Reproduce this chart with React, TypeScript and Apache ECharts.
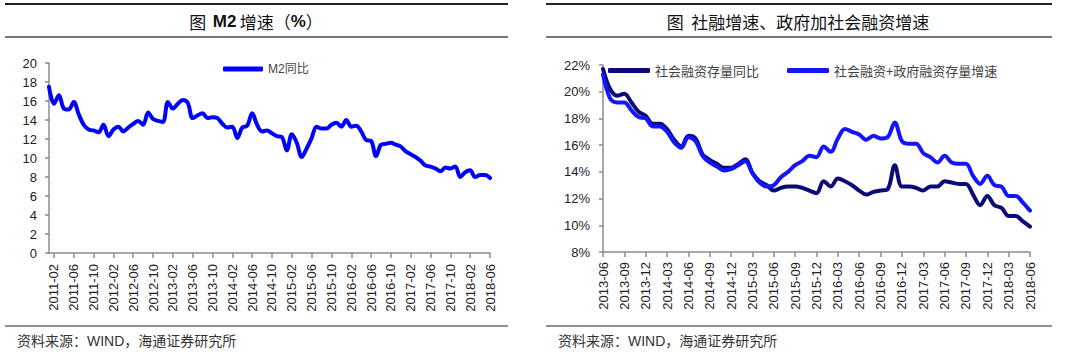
import React, { useEffect, useRef } from "react";
import * as echarts from "echarts";

function buildMonths(y0: number, m0: number, n: number): string[] {
  const out: string[] = [];
  let y = y0;
  let m = m0;
  for (let i = 0; i < n; i++) {
    out.push(`${y}-${m < 10 ? "0" + m : m}`);
    m++;
    if (m > 12) {
      m = 1;
      y++;
    }
  }
  return out;
}

// Left chart: M2 YoY growth (%), monthly 2011-01 .. 2018-06
const m2Months = buildMonths(2011, 1, 90);
const m2Values = [
  17.5, 15.7, 16.6, 15.2, 15.1, 15.9, 14.6, 13.5, 13.0, 12.9, 12.7, 13.5,
  12.3, 13.0, 13.3, 12.8, 13.2, 13.6, 13.9, 13.5, 14.8, 14.1, 13.9, 13.8,
  15.9, 15.2, 15.7, 16.1, 15.8, 14.2, 14.5, 14.7, 14.2, 14.3, 14.2, 13.6,
  13.2, 13.3, 12.1, 13.2, 13.4, 14.7, 13.5, 12.8, 12.9, 12.6, 12.3, 12.2,
  10.8, 12.5, 11.6, 10.1, 11.0, 12.1, 13.3, 13.1, 13.1, 13.5, 13.7, 13.3,
  14.0, 13.3, 13.4, 12.8, 11.9, 11.8, 10.2, 11.4, 11.5, 11.6, 11.4, 11.2,
  10.7, 10.4, 10.1, 9.7, 9.2, 9.1, 8.9, 8.6, 9.0, 8.9, 9.1, 8.0,
  8.5, 8.7, 8.0, 8.2, 8.2, 7.9,
];
const m2Name = "M2同比";

// Right chart: monthly 2013-06 .. 2018-06 (%)
const tsfMonths = buildMonths(2013, 6, 61);
const tsfName = "社会融资存量同比";
const tsfValues = [
  21.7, 20.2, 19.7, 19.85, 19.2, 18.5, 18.2, 17.6, 17.6, 17.2, 16.4, 15.9,
  16.7, 16.5, 15.3, 14.9, 14.6, 14.3, 14.3, 14.6, 14.95, 13.9, 13.3, 13.0,
  12.6, 12.8, 12.9, 12.9, 12.8, 12.6, 12.4, 13.3, 12.9, 13.5, 13.3, 13.0,
  12.6, 12.3, 12.5, 12.6, 12.7, 14.5, 12.9, 12.9, 12.8, 12.6, 12.9, 12.9,
  13.3, 13.2, 13.1, 13.1, 12.3, 11.5, 12.2, 11.5, 11.3, 10.7, 10.7, 10.3,
  9.9,
];
const tsfGovName = "社会融资+政府融资存量增速";
const tsfGovValues = [
  21.3, 19.5, 19.2, 19.2, 18.6, 18.1, 18.0, 17.4, 17.4, 17.0, 16.2, 15.8,
  16.6, 16.3, 15.2, 14.7, 14.4, 14.1, 14.2, 14.5, 14.8, 13.9, 13.2, 12.9,
  13.0, 13.6, 14.0, 14.5, 14.8, 15.2, 15.1, 15.9, 15.5, 16.5, 17.2, 17.0,
  16.8, 16.4, 16.7, 16.5, 16.6, 17.7, 16.3, 16.1, 16.1, 15.4, 15.1, 14.7,
  15.2, 14.7, 14.6, 14.6, 13.7, 13.1, 13.7, 13.0, 12.9, 12.2, 12.2, 11.7,
  11.1,
];

const leftTitle = ["图", "M2", "增速（", "%", "）"];
const rightTitle = "图  社融增速、政府加社会融资增速";
const sourceNote = "资料来源：WIND，海通证券研究所";

const AXIS_COLOR = "#8c8c8c";
const LABEL_COLOR = "#222";
const SANS = "'Liberation Sans', Arial, 'Noto Sans CJK SC', sans-serif";
const CJK = "'Noto Sans CJK SC', 'Liberation Sans', sans-serif";

export default function App() {
  const ref = useRef<HTMLDivElement>(null);

  useEffect(() => {
    document.body.style.margin = "0";
    if (!ref.current) return;
    const chart = echarts.init(ref.current, undefined, { renderer: "svg" });

    const leftInterval = (idx: number) => (idx - 1) % 4 === 0;

    const axisLine = { show: true, lineStyle: { color: AXIS_COLOR, width: 1.5 } };

    const option: any = {
      animation: false,
      textStyle: { fontFamily: SANS },
      legend: [
        {
          data: [m2Name],
          left: 218,
          top: 58,
          icon: "roundRect",
          itemWidth: 40,
          itemHeight: 5,
          itemGap: 10,
          textStyle: { fontSize: 12, color: "#444", fontFamily: SANS },
        },
        {
          data: [tsfName, tsfGovName],
          left: 603,
          top: 59,
          icon: "roundRect",
          itemWidth: 42,
          itemHeight: 5,
          itemGap: 28,
          textStyle: { fontSize: 13, color: "#444", fontFamily: CJK },
        },
      ],
      grid: [
        { left: 49, top: 63, width: 441, height: 190 },
        { left: 603, top: 65, width: 427, height: 187 },
      ],
      xAxis: [
        {
          type: "category",
          gridIndex: 0,
          data: m2Months,
          boundaryGap: false,
          axisLine,
          axisTick: {
            show: true,
            interval: leftInterval,
            length: 5,
            lineStyle: { color: AXIS_COLOR, width: 1.5 },
          },
          axisLabel: {
            interval: leftInterval,
            rotate: 90,
            margin: 11,
            fontSize: 13,
            color: LABEL_COLOR,
            fontFamily: SANS,
          },
          splitLine: { show: false },
        },
        {
          type: "category",
          gridIndex: 1,
          data: tsfMonths,
          boundaryGap: false,
          axisLine,
          axisTick: {
            show: true,
            interval: 2,
            length: 5,
            lineStyle: { color: AXIS_COLOR, width: 1.5 },
          },
          axisLabel: {
            interval: 2,
            rotate: 90,
            margin: 10,
            fontSize: 13,
            color: LABEL_COLOR,
            fontFamily: SANS,
          },
          splitLine: { show: false },
        },
      ],
      yAxis: [
        {
          type: "value",
          gridIndex: 0,
          min: 0,
          max: 20,
          interval: 2,
          axisLine,
          axisTick: { show: true, length: 4, lineStyle: { color: AXIS_COLOR, width: 1.5 } },
          axisLabel: { margin: 12, fontSize: 13, color: LABEL_COLOR, fontFamily: SANS },
          splitLine: { show: false },
        },
        {
          type: "value",
          gridIndex: 1,
          min: 8,
          max: 22,
          interval: 2,
          axisLine,
          axisTick: { show: true, length: 4, lineStyle: { color: AXIS_COLOR, width: 1.5 } },
          axisLabel: {
            margin: 13,
            fontSize: 13,
            color: LABEL_COLOR,
            fontFamily: SANS,
            formatter: "{value}%",
          },
          splitLine: { show: false },
        },
      ],
      series: [
        {
          name: m2Name,
          type: "line",
          xAxisIndex: 0,
          yAxisIndex: 0,
          data: m2Values,
          symbol: "none",
          smooth: 0.35,
          color: "#0000ff",
          lineStyle: { width: 4, color: "#0000ff", cap: "round", join: "round" },
        },
        {
          name: tsfName,
          type: "line",
          xAxisIndex: 1,
          yAxisIndex: 1,
          data: tsfValues,
          symbol: "none",
          smooth: 0.35,
          color: "#0b0b78",
          lineStyle: { width: 4, color: "#0b0b78", cap: "round", join: "round" },
        },
        {
          name: tsfGovName,
          type: "line",
          xAxisIndex: 1,
          yAxisIndex: 1,
          data: tsfGovValues,
          symbol: "none",
          smooth: 0.35,
          color: "#1414ff",
          lineStyle: { width: 4, color: "#1414ff", cap: "round", join: "round" },
        },
      ],
      graphic: [
        // left panel rules
        { type: "line", shape: { x1: 5, y1: 4, x2: 508, y2: 4 }, style: { stroke: "#222", lineWidth: 2 } },
        { type: "line", shape: { x1: 5, y1: 37, x2: 508, y2: 37 }, style: { stroke: "#777", lineWidth: 2 } },
        { type: "line", shape: { x1: 5, y1: 326, x2: 508, y2: 326 }, style: { stroke: "#222", lineWidth: 1 } },
        // right panel rules
        { type: "line", shape: { x1: 546, y1: 4, x2: 1052, y2: 4 }, style: { stroke: "#222", lineWidth: 2 } },
        { type: "line", shape: { x1: 546, y1: 37, x2: 1052, y2: 37 }, style: { stroke: "#777", lineWidth: 2 } },
        { type: "line", shape: { x1: 546, y1: 326, x2: 1052, y2: 326 }, style: { stroke: "#222", lineWidth: 1 } },
        // titles
        {
          type: "text",
          x: 256,
          y: 21,
          style: {
            text: `{c|${leftTitle[0]}}  {m|${leftTitle[1]}} {c|${leftTitle[2]}}{m|${leftTitle[3]}}{c|${leftTitle[4]}}`,
            align: "center",
            verticalAlign: "middle",
            rich: {
              c: { fontSize: 17, fontFamily: CJK, fill: "#111" },
              m: { fontSize: 17, fontWeight: "bold", fontFamily: SANS, fill: "#111" },
            },
          },
        },
        {
          type: "text",
          x: 798,
          y: 21,
          style: {
            text: rightTitle,
            align: "center",
            verticalAlign: "middle",
            fontSize: 17,
            fontFamily: CJK,
            fill: "#111",
          },
        },
        // source notes
        {
          type: "text",
          x: 17,
          y: 341,
          style: { text: sourceNote, verticalAlign: "middle", fontSize: 14, fontFamily: SANS, fill: "#333" },
        },
        {
          type: "text",
          x: 558,
          y: 341,
          style: { text: sourceNote, verticalAlign: "middle", fontSize: 14, fontFamily: SANS, fill: "#333" },
        },
      ],
    };

    chart.setOption(option);
    return () => {
      chart.dispose();
    };
  }, []);

  return <div ref={ref} style={{ width: 1080, height: 357, background: "#fff" }} />;
}
